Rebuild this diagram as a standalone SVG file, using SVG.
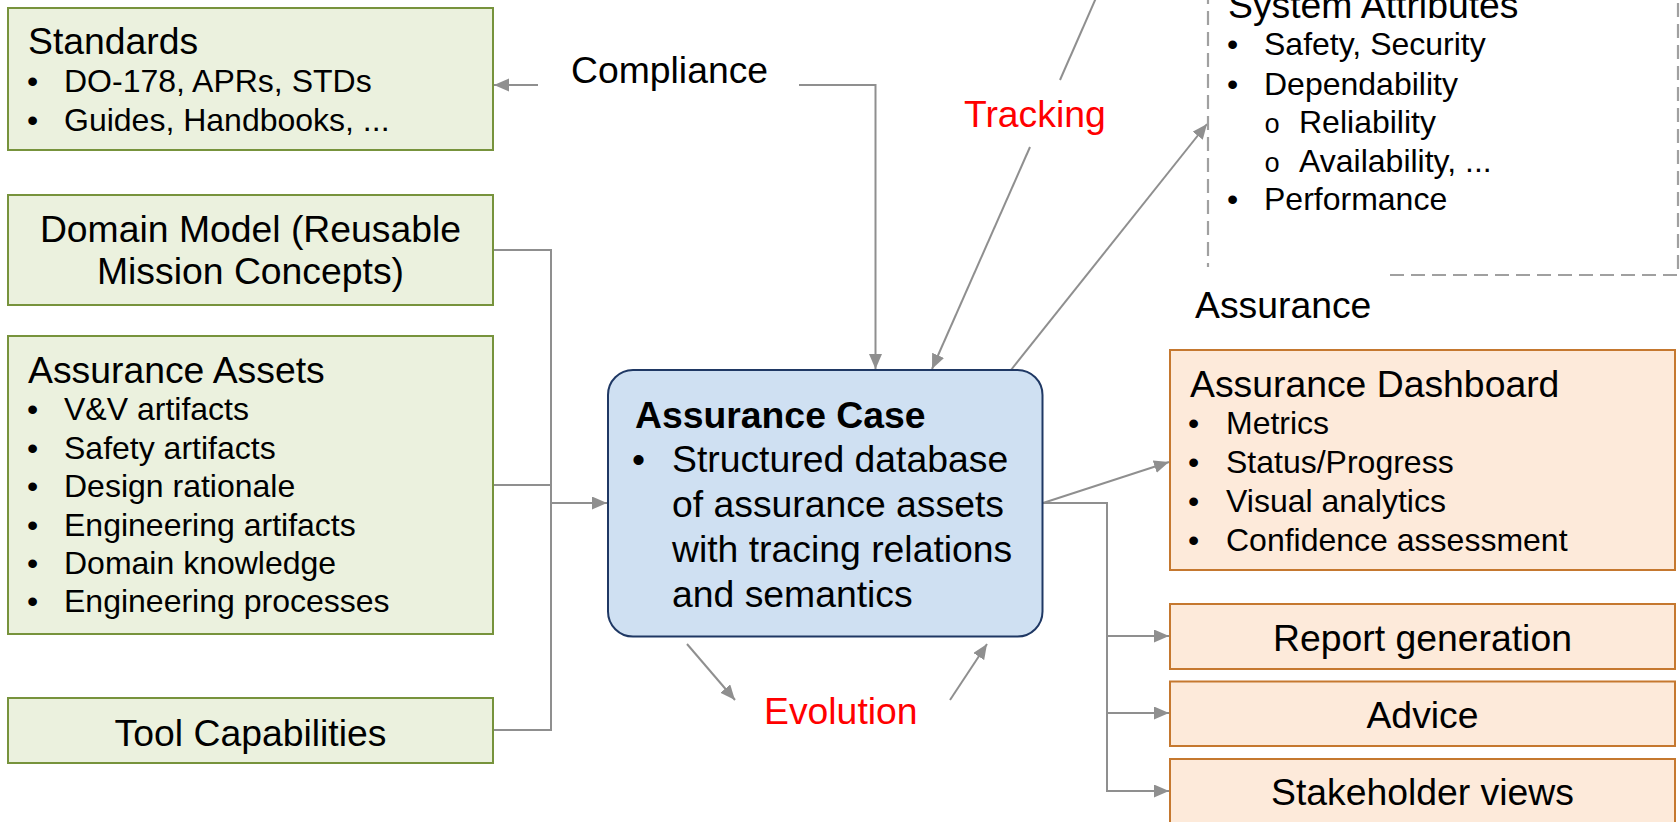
<svg xmlns="http://www.w3.org/2000/svg" width="1680" height="822" viewBox="0 0 1680 822">
<defs>
<style>
text{font-family:"Liberation Sans",Arial,sans-serif;fill:#000}
.t{font-size:37.33px}
.b{font-size:32px}
.bold{font-weight:bold}
.red{fill:#ff0000}
.mid{text-anchor:middle}
.green{fill:#EBF1DE;stroke:#77933C;stroke-width:2}
.orange{fill:#FDEADA;stroke:#C5782F;stroke-width:2}
.blue{fill:#CFE0F2;stroke:#1F3864;stroke-width:2}
.conn{fill:none;stroke:#8F8F8F;stroke-width:2}
.dash{fill:none;stroke:#A0A0A0;stroke-width:2.2;stroke-dasharray:14,7}
.sub{font-family:"Liberation Mono","Courier New",monospace;font-size:27px}
</style>
<marker id="ah" markerUnits="userSpaceOnUse" markerWidth="16" markerHeight="14" refX="15" refY="6.5" orient="auto">
<path d="M0,0 L15,6.5 L0,13 z" fill="#8F8F8F"/>
</marker>
</defs>

<g id="connectors">
<path class="conn" d="M538,85 H494" marker-end="url(#ah)"/>
<path class="conn" d="M799,85 H875.5 V369" marker-end="url(#ah)"/>
<path class="conn" d="M1096,-2 L1060,80"/>
<path class="conn" d="M1030,147 L932,369" marker-end="url(#ah)"/>
<path class="conn" d="M1011,370 L1207,124" marker-end="url(#ah)"/>
<path class="conn" d="M493,250 H551 V730 H493"/>
<path class="conn" d="M493,485 H551"/>
<path class="conn" d="M551,503 H607" marker-end="url(#ah)"/>
<path class="conn" d="M1043,503 L1169,462" marker-end="url(#ah)"/>
<path class="conn" d="M1043,503 H1107 V791 H1169" marker-end="url(#ah)"/>
<path class="conn" d="M1107,636 H1169" marker-end="url(#ah)"/>
<path class="conn" d="M1107,713 H1169" marker-end="url(#ah)"/>
<path class="conn" d="M687,644 L735,700" marker-end="url(#ah)"/>
<path class="conn" d="M950,700 L987,644" marker-end="url(#ah)"/>
</g>

<g id="system-attributes">
<path class="dash" d="M1208,-10 V267"/>
<path class="dash" d="M1390,275 H1678 V-10"/>
<text class="t" x="1228" y="18">System Attributes</text>
<text class="b" x="1227" y="55">•</text><text class="b" x="1264" y="55">Safety, Security</text>
<text class="b" x="1227" y="95">•</text><text class="b" x="1264" y="95">Dependability</text>
<text class="sub" x="1264" y="133">o</text><text class="b" x="1299" y="133">Reliability</text>
<text class="sub" x="1264" y="172">o</text><text class="b" x="1299" y="172">Availability, ...</text>
<text class="b" x="1227" y="210">•</text><text class="b" x="1264" y="210">Performance</text>
</g>

<g id="standards">
<rect class="green" x="8" y="8" width="485" height="142"/>
<text class="t" x="28" y="54">Standards</text>
<text class="b" x="27" y="92">•</text><text class="b" x="64" y="92">DO-178, APRs, STDs</text>
<text class="b" x="27" y="131">•</text><text class="b" x="64" y="131">Guides, Handbooks, ...</text>
</g>

<g id="domain-model">
<rect class="green" x="8" y="195" width="485" height="110"/>
<text class="t mid" x="250.5" y="242">Domain Model (Reusable</text>
<text class="t mid" x="250.5" y="284">Mission Concepts)</text>
</g>

<g id="assurance-assets">
<rect class="green" x="8" y="336" width="485" height="298"/>
<text class="t" x="28" y="383">Assurance Assets</text>
<text class="b" x="27" y="420">•</text><text class="b" x="64" y="420">V&amp;V artifacts</text>
<text class="b" x="27" y="458.5">•</text><text class="b" x="64" y="458.5">Safety artifacts</text>
<text class="b" x="27" y="497">•</text><text class="b" x="64" y="497">Design rationale</text>
<text class="b" x="27" y="535.5">•</text><text class="b" x="64" y="535.5">Engineering artifacts</text>
<text class="b" x="27" y="574">•</text><text class="b" x="64" y="574">Domain knowledge</text>
<text class="b" x="27" y="612">•</text><text class="b" x="64" y="612">Engineering processes</text>
</g>

<g id="tool-capabilities">
<rect class="green" x="8" y="698" width="485" height="65"/>
<text class="t mid" x="250.5" y="746">Tool Capabilities</text>
</g>

<g id="compliance-label">
<text class="t" x="571" y="83">Compliance</text>
</g>
<g id="tracking-label">
<text class="t red" x="964" y="127">Tracking</text>
</g>
<g id="evolution-label">
<text class="t red" x="764" y="724">Evolution</text>
</g>
<g id="assurance-label">
<text class="t" x="1195" y="318">Assurance</text>
</g>

<g id="assurance-case">
<rect class="blue" x="608" y="370" width="434.5" height="266.5" rx="25" ry="25"/>
<text class="t bold" x="635" y="428">Assurance Case</text>
<text class="t" x="632" y="472">•</text><text class="t" x="672" y="472">Structured database</text>
<text class="t" x="672" y="517">of assurance assets</text>
<text class="t" x="672" y="562">with tracing relations</text>
<text class="t" x="672" y="607">and semantics</text>
</g>

<g id="assurance-dashboard">
<rect class="orange" x="1170" y="350" width="505" height="220"/>
<text class="t" x="1190" y="397">Assurance Dashboard</text>
<text class="b" x="1188" y="434">•</text><text class="b" x="1226" y="434">Metrics</text>
<text class="b" x="1188" y="473">•</text><text class="b" x="1226" y="473">Status/Progress</text>
<text class="b" x="1188" y="512">•</text><text class="b" x="1226" y="512">Visual analytics</text>
<text class="b" x="1188" y="551">•</text><text class="b" x="1226" y="551">Confidence assessment</text>
</g>

<g id="report-generation">
<rect class="orange" x="1170" y="604" width="505" height="65"/>
<text class="t mid" x="1422.5" y="651">Report generation</text>
</g>

<g id="advice">
<rect class="orange" x="1170" y="681.5" width="505" height="64.5"/>
<text class="t mid" x="1422.5" y="728">Advice</text>
</g>

<g id="stakeholder-views">
<rect class="orange" x="1170" y="759" width="505" height="80"/>
<text class="t mid" x="1422.5" y="805">Stakeholder views</text>
</g>
</svg>
